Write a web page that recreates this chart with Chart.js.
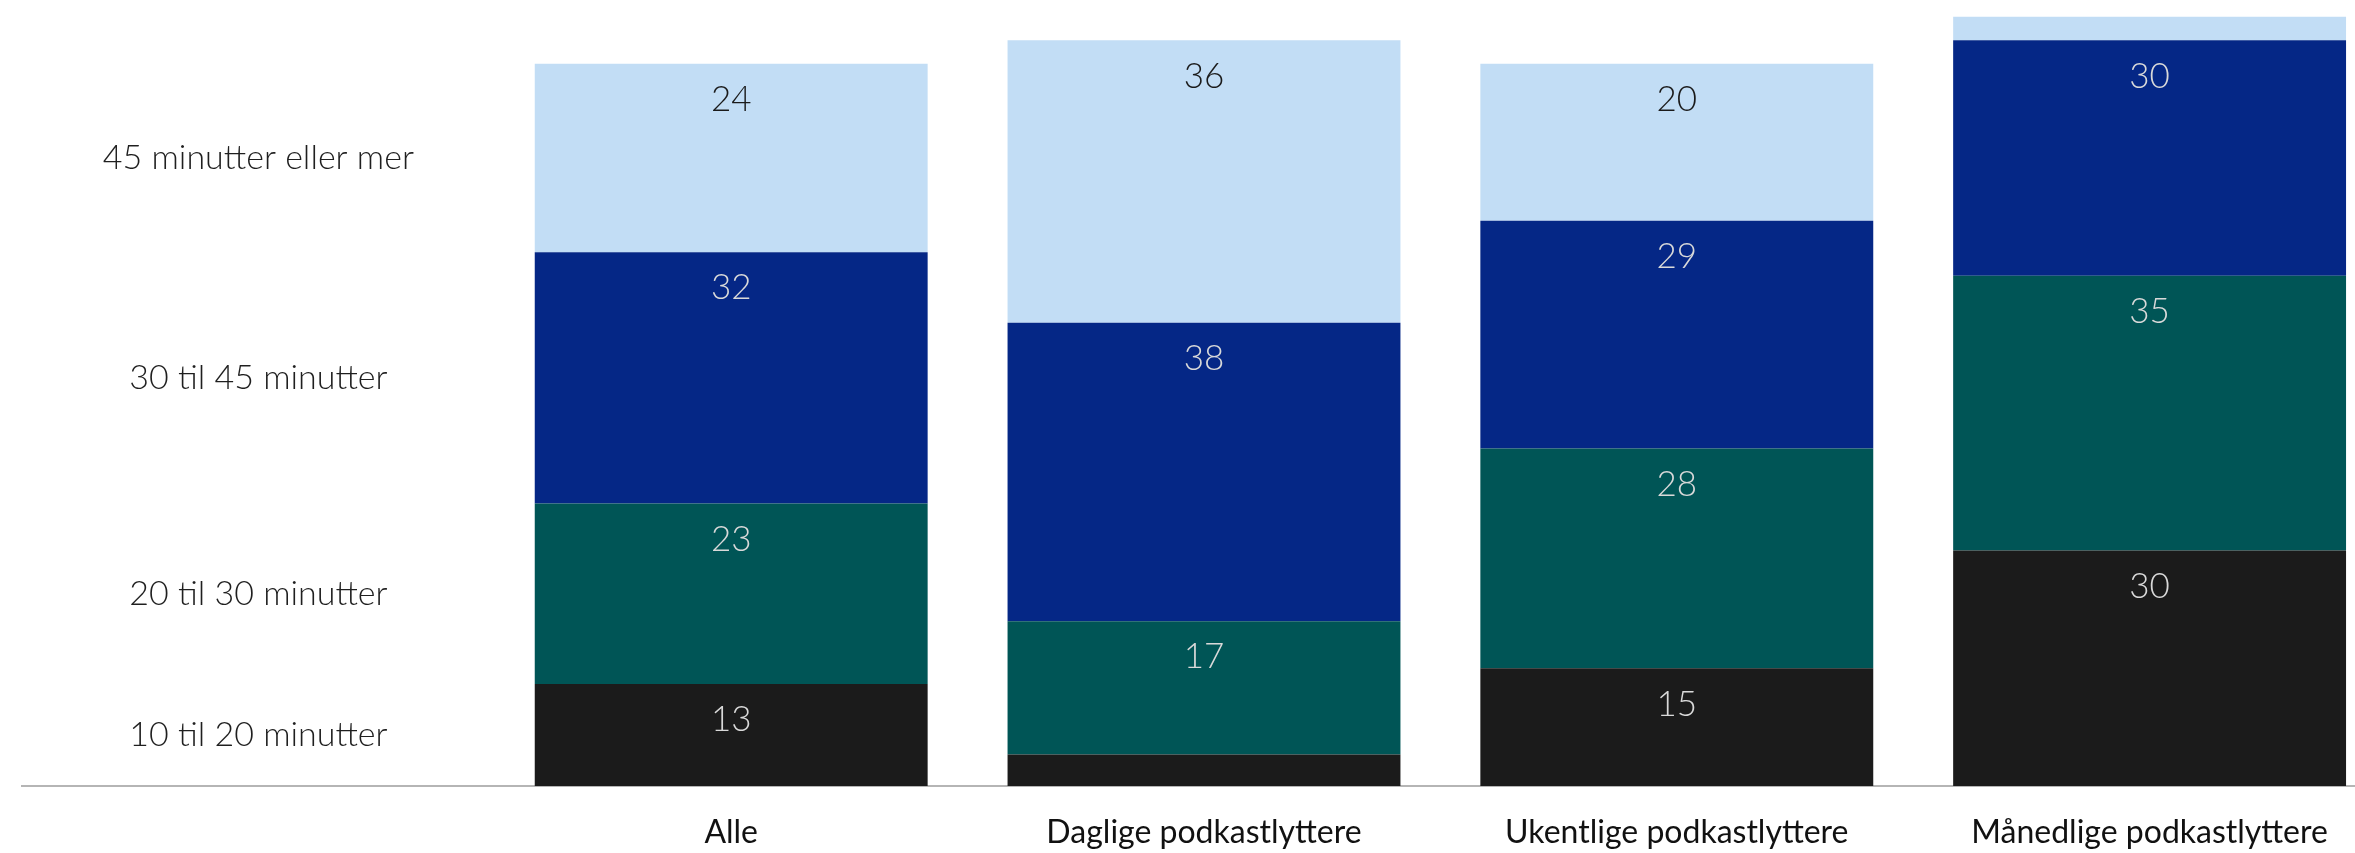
<!DOCTYPE html>
<html lang="no">
<head>
<meta charset="utf-8">
<title>Lyttetid per episode</title>
<script src="https://cdn.jsdelivr.net/npm/chart.js@4.4.1/dist/chart.umd.min.js"></script>
<style>
  html, body { margin: 0; padding: 0; background: #ffffff; }
  #wrap { width: 2355px; height: 853px; overflow: hidden; position: relative; }
  #box { width: 2400px; height: 853px; position: absolute; left: 0; top: 0; }
</style>
</head>
<body>
<div id="wrap"><div id="box"><canvas id="chart"></canvas></div></div>
<script>
// Listener groups along the x axis
const categories = ['Alle', 'Daglige podkastlyttere', 'Ukentlige podkastlyttere', 'Månedlige podkastlyttere'];

// Listening-time bands, bottom to top of each stack
const seriesNames = ['10 til 20 minutter', '20 til 30 minutter', '30 til 45 minutter', '45 minutter eller mer'];

// Share (%) in each band
const min10to20 = [13, 4, 15, 30];
const min20to30 = [23, 17, 28, 35];
const min30to45 = [32, 38, 29, 30];
const min45plus = [24, 36, 20, 3];

const seriesColors = ['#1b1b1b', '#005556', '#052786', '#c2ddf5'];
const valueTextColors = ['#d9d9d9', '#d9d9d9', '#d9d9d9', '#1a1a1a'];

// First slot on the x axis is left empty; the band names are written there
const labels = [''].concat(categories);
const seriesValues = [min10to20, min20to30, min30to45, min45plus];

const datasets = seriesValues.map((vals, i) => ({
  label: seriesNames[i],
  data: [null].concat(vals),
  backgroundColor: seriesColors[i],
  borderWidth: 0,
  barPercentage: 1,
  categoryPercentage: 0.831
}));

const LIGHT = '"Lato", "Open Sans", sans-serif';

// Draws the value inside each segment and the band names in the empty first slot
const segmentText = {
  id: 'segmentText',
  afterDatasetsDraw(chart) {
    const ctx = chart.ctx;
    const xScale = chart.scales.x;
    ctx.save();
    ctx.textAlign = 'center';
    ctx.textBaseline = 'middle';
    chart.data.datasets.forEach((ds, di) => {
      const meta = chart.getDatasetMeta(di);
      meta.data.forEach((el, idx) => {
        const v = ds.data[idx];
        if (v == null) return;
        if (v >= 5) {
          ctx.font = '300 35px ' + LIGHT;
          ctx.fillStyle = valueTextColors[di];
          ctx.fillText(String(v), el.x, el.y + 36);
        }
        if (idx === 1) {
          ctx.font = '300 34px ' + LIGHT;
          ctx.fillStyle = '#1f1f1f';
          ctx.fillText(ds.label, xScale.getPixelForValue(0), (el.y + el.base) / 2);
        }
      });
    });
    ctx.restore();
  }
};

new Chart(document.getElementById('chart'), {
  type: 'bar',
  data: { labels: labels, datasets: datasets },
  plugins: [segmentText],
  options: {
    responsive: true,
    maintainAspectRatio: false,
    animation: false,
    layout: { padding: { left: 22, right: 14, top: 1, bottom: 0 } },
    plugins: {
      legend: { display: false },
      tooltip: { enabled: false }
    },
    scales: {
      x: {
        stacked: true,
        grid: { display: false, drawTicks: false },
        border: { display: true, color: '#b5b5b5', width: 2 },
        ticks: {
          color: '#111111',
          font: { family: LIGHT, size: 32, weight: '400' },
          padding: 27,
          maxRotation: 0,
          autoSkip: false
        },
        afterFit(scale) { scale.height = 67; }
      },
      y: {
        stacked: true,
        display: false,
        min: 0,
        max: 100
      }
    }
  }
});
</script>
</body>
</html>
